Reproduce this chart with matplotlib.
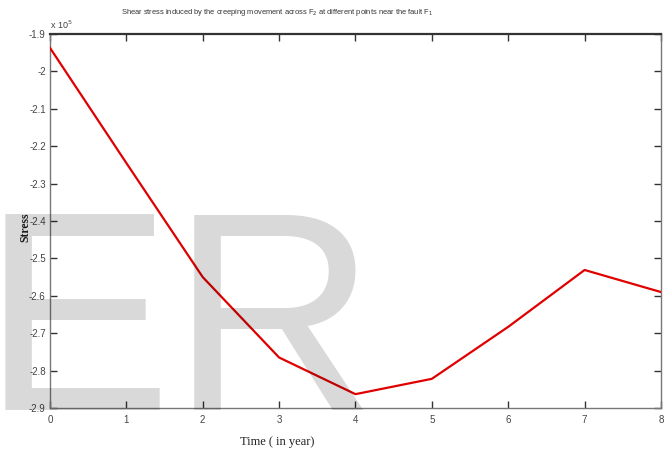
import matplotlib
matplotlib.use("Agg")
import matplotlib.pyplot as plt

# Data (stress in Pa, shown as x 10^5)
years = [0, 1, 2, 3, 4, 5, 6, 7, 8]
stress = [-1.937e5, -2.245e5, -2.55e5, -2.765e5, -2.863e5, -2.822e5, -2.683e5, -2.531e5, -2.59e5]
y_ticks = [-1.9e5, -2.0e5, -2.1e5, -2.2e5, -2.3e5, -2.4e5, -2.5e5, -2.6e5, -2.7e5, -2.8e5, -2.9e5]
y_tick_labels = ['-1.9', '-2', '-2.1', '-2.2', '-2.3', '-2.4', '-2.5', '-2.6', '-2.7', '-2.8', '-2.9']

narrow = ['Liberation Sans Narrow', 'Liberation Sans', 'DejaVu Sans']
serif = ['Liberation Serif', 'DejaVu Serif']

fig = plt.figure(figsize=(6.69, 4.55), dpi=100)
ax = fig.add_axes([0.0747, 0.1033, 0.9133, 0.822])
ax.plot(years, stress, color='#e00000', lw=1.6, zorder=3)
ax.set_xlim(0, 8)
ax.set_ylim(-2.9e5, -1.9e5)
ax.set_xticks(years)
ax.set_yticks(y_ticks)
ax.set_yticklabels(y_tick_labels)
ax.tick_params(direction='in', length=5, width=1, color='#333333', labelsize=7,
               top=True, right=True, pad=3)
ax.tick_params(axis='x', pad=5)
for lbl in ax.get_xticklabels() + ax.get_yticklabels():
    lbl.set_family(narrow)
    lbl.set_color('#444444')
for s in ax.spines.values():
    s.set_color('#777777')
    s.set_linewidth(1.0)
ax.spines['top'].set_color('#333333')
ax.spines['top'].set_linewidth(1.6)

ax.text(0.0, 1.008, r'x 10$^5$', transform=ax.transAxes, fontsize=6.5, family=narrow,
        color='#444444', ha='left', va='bottom')
fig.text(0.415, 0.972, r'Shear stress induced by the creeping movement across F$_2$ at different points near the fault F$_1$',
         fontsize=5.4, family=narrow, color='#333333', ha='center', va='center')
fig.text(0.414, 0.028, 'Time ( in year)', family=serif, fontsize=9, color='#222222',
         ha='center', va='center')
fig.text(0.038, 0.50, 'Stress', rotation=90, family=serif, fontsize=8.5, fontweight='bold',
         color='#222222', ha='center', va='center')

# Watermark
fig.text(-0.028, 0.1, 'ER', family=['Liberation Sans', 'DejaVu Sans'], fontsize=205,
         color='black', alpha=0.15, ha='left', va='baseline', zorder=10)

fig.savefig('out.png', dpi=100)
